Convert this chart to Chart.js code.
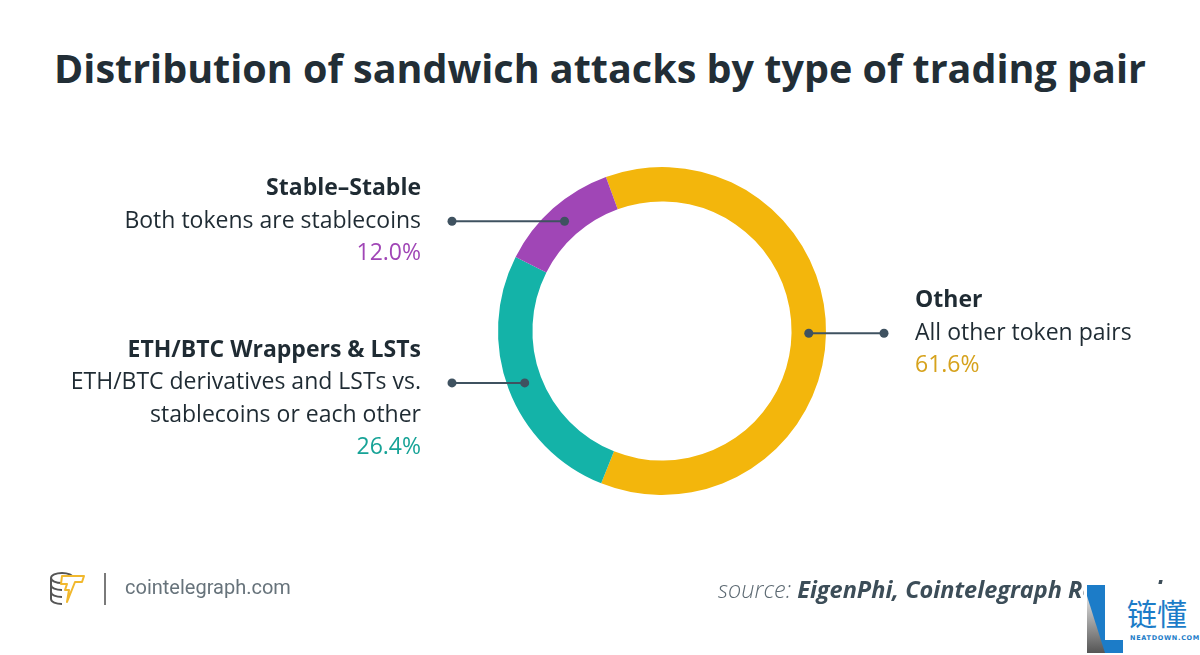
<!DOCTYPE html>
<html>
<head>
<meta charset="utf-8">
<script src="https://cdn.jsdelivr.net/npm/chart.js@4.4.1/dist/chart.umd.min.js"></script>
<style>
  html, body { margin: 0; padding: 0; background: #fff; }
  body { width: 1200px; height: 655px; position: relative; overflow: hidden; font-family: "Open Sans", sans-serif; }
  #chart { position: absolute; left: 0; top: 0; }
  .title { position: absolute; left: 0; width: 1200px; top: 41px; text-align: center; font-weight: 700; font-size: 39.5px; color: #222e36; }
  .brand { position: absolute; left: 125px; top: 575px; font-family: Roboto, sans-serif; font-size: 20px; color: #67737b; }
  .sep { position: absolute; left: 104px; top: 573px; width: 2px; height: 32px; background: #7a7a7a; }
  .logo { position: absolute; left: 48px; top: 570px; }
  .source { position: absolute; left: 718px; top: 573px; font-style: italic; font-size: 23.5px; color: #3c4d58; white-space: nowrap; }
  .source .lt { font-weight: 300; color: #5d6a73; }
  .source b { font-weight: 700; }
  .wm { position: absolute; left: 1084px; top: 584px; width: 116px; height: 71px; background: #fff; }
  .wm .cn { position: absolute; left: 43px; top: 10px; font-family: "Noto Sans CJK SC", sans-serif; font-size: 30px; color: #1c7cc8; line-height: 36px; }
  .wm .en { position: absolute; left: 46px; top: 50px; font-family: "DejaVu Sans", sans-serif; font-size: 6.5px; letter-spacing: 0.7px; color: #1c7cc8; font-weight: bold; }
</style>
</head>
<body>
<div class="title">Distribution of sandwich attacks by type of trading pair</div>
<canvas id="chart" width="1200" height="655"></canvas>

<svg class="logo" width="40" height="38" viewBox="0 0 40 38">
  <g fill="none" stroke="#555" stroke-width="2">
    <ellipse cx="14" cy="8" rx="11" ry="5"/>
    <path d="M3 8v21c0 3 5 5 11 5"/>
    <path d="M3 15c0 3 5 5 11 5"/>
    <path d="M3 22c0 3 5 5 11 5"/>
  </g>
  <path d="M14 6h22l-2 6h-7l-8 20 2-12h-4l2-6h-6z" fill="#fff" stroke="#f1b82d" stroke-width="2" stroke-linejoin="round"/>
</svg>
<div class="sep"></div>
<div class="brand">cointelegraph.com</div>
<div class="source"><span class="lt">source:</span> <b>EigenPhi, Cointelegraph Research</b></div>

<div class="wm">
  <svg width="42" height="71" style="position:absolute;left:0;top:0">
    <defs>
      <linearGradient id="g" x1="0" y1="0" x2="0" y2="1">
        <stop offset="0" stop-color="#e0e0e0"/>
        <stop offset="1" stop-color="#555"/>
      </linearGradient>
    </defs>
    <polygon points="3,1 21,1 21,56 39,56 39,69 3,69" fill="#1c7cc8"/>
    <polygon points="3,12 3,69 21,69" fill="url(#g)"/>
  </svg>
  <div class="cn">链懂</div>
  <div class="en">NEATDOWN.COM</div>
</div>

<script>
// values (percent of sandwich attacks)
const pairLabels = ["Other", "ETH/BTC Wrappers & LSTs", "Stable–Stable"];
const pairNotes = [
  ["All other token pairs"],
  ["ETH/BTC derivatives and LSTs vs.", "stablecoins or each other"],
  ["Both tokens are stablecoins"],
];
const pairShares = [61.6, 26.4, 12.0];
const ringColors = ["#f3b60c", "#14b3a8", "#a046b6"];
const pctColors = ["#d6a21c", "#17a397", "#a046b6"];

const INK = "#1f2b33";
const LEADER = "#3f5260";

// leader line + dot from each arc midpoint, then the label block beside it
const leaderLabels = {
  id: "leaderLabels",
  afterDatasetsDraw(chart) {
    const ctx = chart.ctx;
    const meta = chart.getDatasetMeta(0);
    meta.data.forEach((arc, i) => {
      const p = arc.tooltipPosition();
      const right = p.x > arc.x;
      const lineEnd = right ? 884 : 452;
      const textX = right ? 915 : 421;
      ctx.save();
      ctx.strokeStyle = LEADER;
      ctx.fillStyle = LEADER;
      ctx.lineWidth = 2;
      ctx.beginPath();
      ctx.moveTo(p.x, p.y);
      ctx.lineTo(lineEnd, p.y);
      ctx.stroke();
      [p.x, lineEnd].forEach((x) => {
        ctx.beginPath();
        ctx.arc(x, p.y, 4.5, 0, Math.PI * 2);
        ctx.fill();
      });

      const step = 32.5;
      ctx.textAlign = right ? "left" : "right";
      ctx.textBaseline = "middle";
      ctx.font = "700 23px 'Open Sans'";
      ctx.fillStyle = INK;
      ctx.fillText(pairLabels[i], textX, p.y - step);
      ctx.font = "400 23px 'Open Sans'";
      pairNotes[i].forEach((line, k) => ctx.fillText(line, textX, p.y + k * step));
      ctx.fillStyle = pctColors[i];
      ctx.fillText(pairShares[i].toFixed(1) + "%", textX, p.y + pairNotes[i].length * step);
      ctx.restore();
    });
  },
};

new Chart(document.getElementById("chart"), {
  type: "doughnut",
  data: {
    labels: pairLabels,
    datasets: [
      {
        data: pairShares,
        backgroundColor: ringColors,
        borderWidth: 0,
      },
    ],
  },
  options: {
    responsive: false,
    animation: false,
    cutout: "79%",
    rotation: -20,
    layout: { padding: { left: 498, right: 374, top: 167, bottom: 160 } },
    plugins: { legend: { display: false }, tooltip: { enabled: false } },
  },
  plugins: [leaderLabels],
});
</script>
</body>
</html>
